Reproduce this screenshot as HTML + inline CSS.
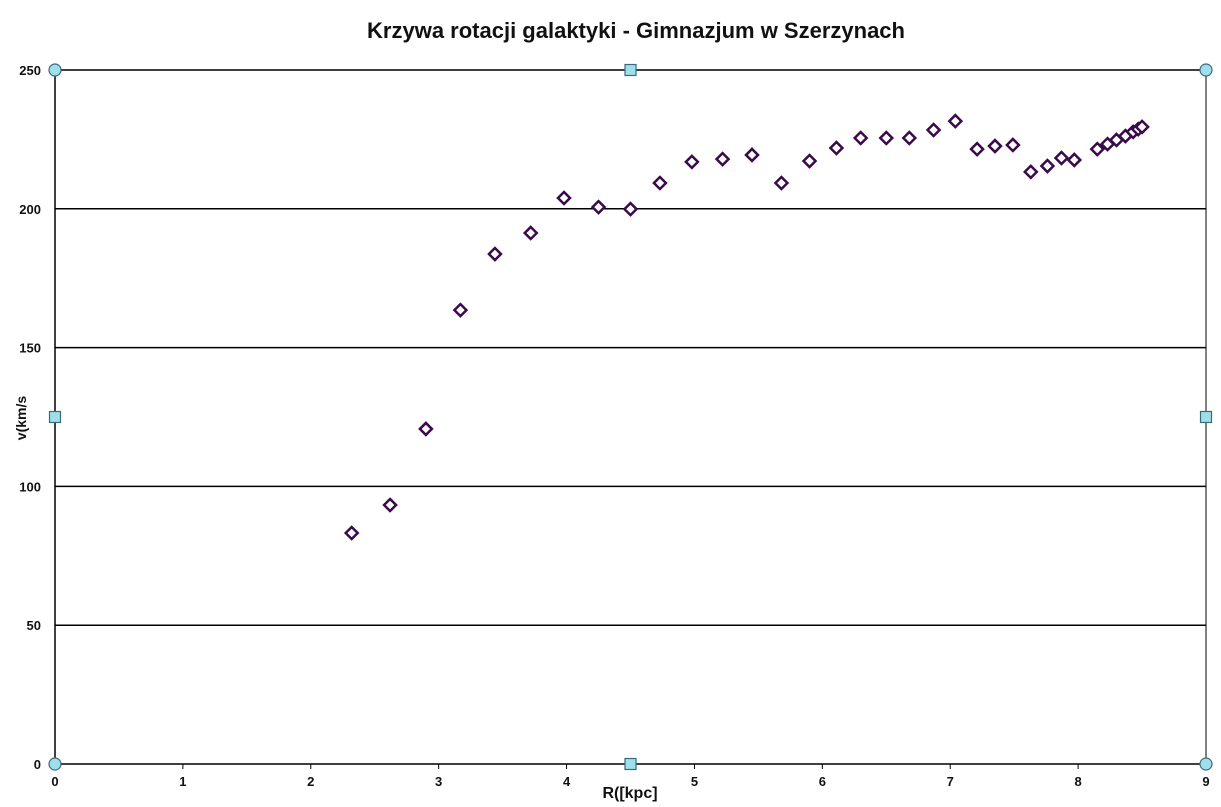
<!DOCTYPE html>
<html><head><meta charset="utf-8"><style>
html,body{margin:0;padding:0;background:#fff;}
svg{display:block;font-family:"Liberation Sans",sans-serif;}
</style></head><body>
<svg id="c" width="1221" height="807" viewBox="0 0 1221 807">
<text x="636" y="38" text-anchor="middle" font-size="22" font-weight="bold" fill="#111">Krzywa rotacji galaktyki - Gimnazjum w Szerzynach</text>
<g id="grid"></g>
<g id="axes"></g>
<g id="pts"></g>
<g id="handles"></g>
<text x="26" y="418" transform="rotate(-90 26 418)" text-anchor="middle" font-size="14" font-weight="bold" fill="#111">v(km/s</text>
<text x="630" y="798" text-anchor="middle" font-size="16" font-weight="bold" fill="#111">R([kpc]</text>
</svg>
<script>
const xs=[2.32,2.62,2.90,3.17,3.44,3.72,3.98,4.25,4.50,4.73,4.98,5.22,5.45,5.68,5.90,6.11,6.30,6.50,6.68,6.87,7.04,7.21,7.35,7.49,7.63,7.76,7.87,7.97,8.15,8.23,8.30,8.37,8.43,8.47,8.50];
const ys=[83.2,93.3,120.7,163.5,183.7,191.3,203.9,200.6,199.9,209.3,216.9,217.9,219.4,209.3,217.2,221.9,225.5,225.5,225.5,228.4,231.6,221.5,222.6,223.0,213.3,215.4,218.3,217.6,221.5,223.3,224.8,226.2,227.7,228.7,229.5];
const xTicks=[0,1,2,3,4,5,6,7,8,9];
const yTicks=[0,50,100,150,200,250];
const X0=55,X1=1206,Y0=764,Y1=70;
const sx=v=>X0+(v-0)/(9-0)*(X1-X0);
const sy=v=>Y0-(v-0)/(250-0)*(Y0-Y1);
const NS="http://www.w3.org/2000/svg";
function mk(t,a,p){const e=document.createElementNS(NS,t);for(const k in a)e.setAttribute(k,a[k]);p.appendChild(e);return e;}
const grid=document.getElementById('grid'),axes=document.getElementById('axes'),pts=document.getElementById('pts'),h=document.getElementById('handles');
yTicks.forEach(v=>{
 const l=mk('line',{x1:X0,x2:X1,y1:sy(v),y2:sy(v),stroke:'#000','stroke-width':1.5},grid);
 
 
 const t=mk('text',{x:X0-14,y:sy(v)+5,'text-anchor':'end','font-size':13,'font-weight':'bold',fill:'#111'},axes);
 t.textContent=v;
 
 
});
xTicks.forEach(v=>{
 const t=mk('text',{x:sx(v),y:Y0+22,'text-anchor':'middle','font-size':13,'font-weight':'bold',fill:'#111'},axes);
 t.textContent=v;
 
 
 const k=mk('line',{x1:sx(v),x2:sx(v),y1:Y0,y2:Y0+5,stroke:'#000'},axes);
 
 
});
const la=mk('line',{x1:X0,x2:X0,y1:Y1,y2:Y0,stroke:'#000','stroke-width':1.5},axes);


const ra=mk('line',{x1:X1,x2:X1,y1:Y1,y2:Y0,stroke:'#000','stroke-width':1},axes);


xs.forEach((x,i)=>{
 const cx=sx(x),cy=sy(ys[i]),r=6;
 const p=mk('polygon',{points:`${cx},${cy-r} ${cx+r},${cy} ${cx},${cy+r} ${cx-r},${cy}`,fill:'#fff',stroke:'#3a0a4a','stroke-width':2.5},pts);
 
 
});
[[X0,Y1],[X1,Y1],[X0,Y0],[X1,Y0]].forEach(([x,y])=>{
 const c=mk('circle',{cx:x,cy:y,r:6,fill:'#9fe0e8',stroke:'#3a6a80','stroke-width':1.2},h);
 
 
});
[[(X0+X1)/2,Y1],[(X0+X1)/2,Y0],[X0,(Y0+Y1)/2],[X1,(Y0+Y1)/2]].forEach(([x,y])=>{
 const s=mk('rect',{x:x-5.5,y:y-5.5,width:11,height:11,fill:'#9fe0e8',stroke:'#3a6a80','stroke-width':1.2},h);
 
 
});
</script>
</body></html>
